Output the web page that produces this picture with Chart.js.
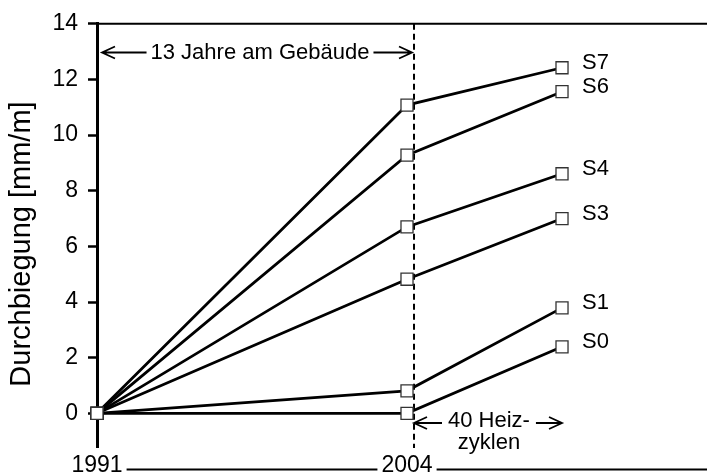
<!DOCTYPE html>
<html>
<head>
<meta charset="utf-8">
<script src="https://cdn.jsdelivr.net/npm/chart.js@4/dist/chart.umd.min.js"></script>
<style>
  html, body { margin: 0; padding: 0; background: #fff; }
  canvas { display: block; }
</style>
</head>
<body>
<canvas id="durchbiegung" width="707" height="475"></canvas>
<script>
// x positions: 1991, 2004, and the point after 40 heating cycles
const xPos = [1991, 2004, 2010.5];
const xTicks = [1991, 2004];
const yTicks = [0, 2, 4, 6, 8, 10, 12, 14];

const seriesNames = ["S0", "S1", "S3", "S4", "S6", "S7"];
const s0 = [0, 0, 2.39];
const s1 = [0, 0.81, 3.79];
const s3 = [0, 4.82, 7.0];
const s4 = [0, 6.7, 8.61];
const s6 = [0, 9.28, 11.56];
const s7 = [0, 11.08, 12.42];
const seriesValues = [s0, s1, s3, s4, s6, s7];

const FONT = "'Liberation Sans', Arial, sans-serif";
Chart.defaults.font.family = FONT;
Chart.defaults.color = "#000";

function arrow(ctx, x1, y, x2) {
  // open arrow head at x2
  const dir = x2 > x1 ? 1 : -1;
  ctx.beginPath();
  ctx.moveTo(x1, y);
  ctx.lineTo(x2, y);
  ctx.moveTo(x2 - dir * 13, y - 6);
  ctx.lineTo(x2, y);
  ctx.lineTo(x2 - dir * 13, y + 6);
  ctx.stroke();
}

const decor = {
  id: "decor",
  beforeDraw(chart) {
    const { ctx, chartArea } = chart;
    // baseline under the chart, the year labels sit on it
    ctx.save();
    ctx.strokeStyle = "#000";
    ctx.lineWidth = 2;
    ctx.beginPath();
    ctx.moveTo(chartArea.left, 469.5);
    ctx.lineTo(chart.width, 469.5);
    ctx.stroke();
    ctx.restore();
  },
  beforeDatasetsDraw(chart) {
    const { ctx, chartArea, scales } = chart;
    const dashX = scales.x.getPixelForValue(2004) + 7;
    ctx.save();
    ctx.strokeStyle = "#000";
    ctx.lineWidth = 2;
    ctx.setLineDash([6, 4]);
    ctx.beginPath();
    ctx.moveTo(dashX, chartArea.top);
    ctx.lineTo(dashX, chartArea.bottom + 1);
    ctx.stroke();
    ctx.restore();
  },
  afterDraw(chart) {
    const { ctx, chartArea, scales } = chart;
    const x = scales.x;
    const dashX = x.getPixelForValue(2004) + 7;
    const endX = x.getPixelForValue(xPos[2]);
    ctx.save();
    ctx.strokeStyle = "#000";
    ctx.fillStyle = "#000";

    // top frame line
    ctx.lineWidth = 2;
    ctx.beginPath();
    ctx.moveTo(chartArea.left, chartArea.top);
    ctx.lineTo(chart.width, chartArea.top);
    ctx.stroke();

    // y axis title
    ctx.save();
    ctx.translate(22, 244);
    ctx.rotate(-Math.PI / 2);
    ctx.font = "29px " + FONT;
    ctx.textAlign = "center";
    ctx.textBaseline = "middle";
    ctx.fillText("Durchbiegung [mm/m]", 0, 0);
    ctx.restore();

    ctx.font = "22px " + FONT;
    ctx.lineWidth = 1.8;

    // 13 years on the building
    const left = x.getPixelForValue(1991) + 5;
    const right = dashX - 2;
    const label1 = "13 Jahre am Gebäude";
    const w1 = ctx.measureText(label1).width;
    const mid = (left + right) / 2 + 3;
    ctx.textAlign = "center";
    ctx.textBaseline = "alphabetic";
    ctx.fillText(label1, mid, 58.5);
    arrow(ctx, mid - w1 / 2 - 4, 52.5, left);
    arrow(ctx, mid + w1 / 2 + 4, 52.5, right);

    // 40 heating cycles
    const label2 = "40 Heiz-";
    const w2 = ctx.measureText(label2).width;
    const tx = dashX + 34;
    ctx.textAlign = "left";
    ctx.fillText(label2, tx, 427);
    arrow(ctx, tx - 6, 423, dashX);
    arrow(ctx, tx + w2 + 6, 423, endX);
    ctx.textAlign = "center";
    ctx.fillText("zyklen", tx + w2 / 2, 448.5);

    // series names next to the last points
    ctx.textAlign = "left";
    chart.data.datasets.forEach((ds, i) => {
      const pt = chart.getDatasetMeta(i).data[ds.data.length - 1];
      ctx.fillText(ds.label, pt.x + 20, pt.y + 1);
    });
    ctx.restore();
  }
};

new Chart(document.getElementById("durchbiegung"), {
  type: "line",
  data: {
    datasets: seriesNames.map((name, i) => ({
      label: name,
      data: xPos.map((xv, j) => ({ x: xv, y: seriesValues[i][j] })),
      borderColor: "#000",
      borderWidth: 2.8,
      tension: 0,
      pointStyle: "rect",
      pointRadius: 8.5,
      pointBorderWidth: 1.3,
      pointBorderColor: "#333",
      pointBackgroundColor: "#fff",
      clip: false,
    })),
  },
  options: {
    responsive: false,
    animation: false,
    events: [],
    layout: {
      autoPadding: false,
      padding: { top: 21, right: 0, bottom: 0, left: 0 },
    },
    plugins: {
      legend: { display: false },
      tooltip: { enabled: false },
    },
    scales: {
      x: {
        type: "linear",
        min: 1991,
        max: 2016.58,
        afterBuildTicks: (scale) => {
          scale.ticks = xTicks.map((v) => ({ value: v }));
        },
        afterFit: (scale) => {
          scale.height = 28;
        },
        grid: { display: false, drawTicks: false },
        border: { display: false },
        ticks: {
          autoSkip: false,
          maxRotation: 0,
          padding: 5,
          font: { size: 23 },
          color: "#000",
          showLabelBackdrop: true,
          backdropColor: "#fff",
          backdropPadding: { left: 4, right: 4, top: 0, bottom: 0 },
          callback: (v) => String(v),
        },
      },
      y: {
        min: -1.21,
        max: 14,
        afterBuildTicks: (scale) => {
          scale.ticks = yTicks.map((v) => ({ value: v }));
        },
        afterFit: (scale) => {
          scale.width = 97;
        },
        grid: {
          drawOnChartArea: false,
          drawTicks: true,
          tickLength: 9,
          tickWidth: 2.5,
          tickColor: "#000",
        },
        border: { display: true, color: "#000", width: 3 },
        ticks: {
          padding: 10,
          font: { size: 23 },
          color: "#000",
          callback: (v) => String(v),
        },
      },
    },
  },
  plugins: [decor],
});
</script>
</body>
</html>
